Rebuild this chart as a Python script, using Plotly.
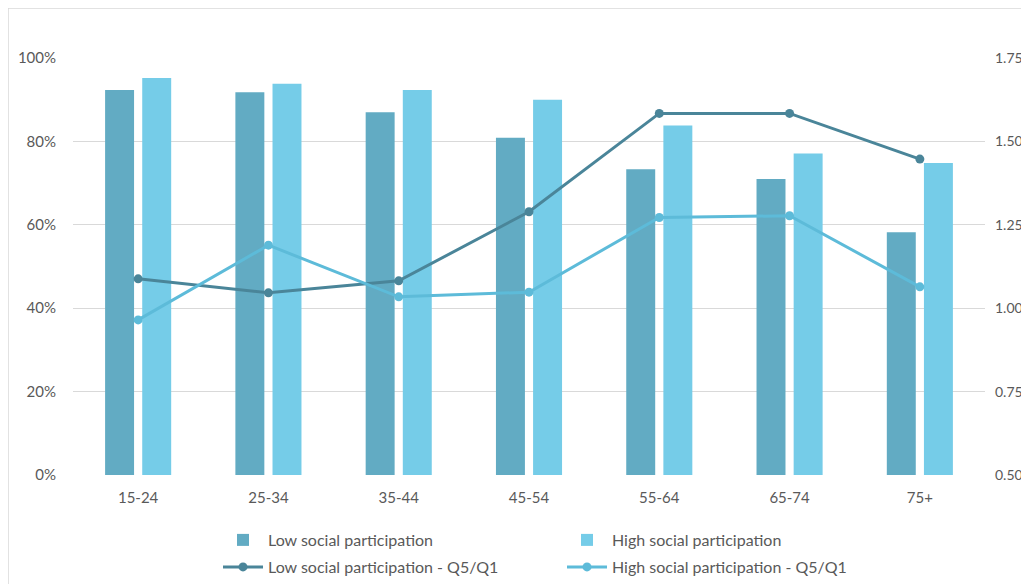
import plotly.graph_objects as go

categories = ["15-24", "25-34", "35-44", "45-54", "55-64", "65-74", "75+"]
low_share = [0.923, 0.918, 0.870, 0.809, 0.733, 0.710, 0.582]
high_share = [0.952, 0.938, 0.923, 0.900, 0.838, 0.771, 0.748]
low_ratio = [1.088, 1.046, 1.082, 1.289, 1.584, 1.584, 1.447]
high_ratio = [0.965, 1.189, 1.034, 1.048, 1.272, 1.277, 1.064]

left_ticks = [0, 0.2, 0.4, 0.6, 0.8, 1.0]
right_ticks = [0.5, 0.75, 1.0, 1.25, 1.5, 1.75]

c_low_bar = "#62abc3"
c_high_bar = "#75cce8"
c_low_line = "#4a8599"
c_high_line = "#5dbbd9"
font_color = "#595959"
FONT = "Lato"

fig = go.Figure()
fig.add_trace(go.Bar(x=categories, y=low_share, name="Low social participation",
                     marker=dict(color=c_low_bar, line=dict(width=0)), legend="legend"))
fig.add_trace(go.Bar(x=categories, y=high_share, name="High social participation",
                     marker=dict(color=c_high_bar, line=dict(width=0)), legend="legend"))
fig.add_trace(go.Scatter(x=categories, y=low_ratio, name="Low social participation - Q5/Q1",
                         yaxis="y2", mode="lines+markers", legend="legend2",
                         line=dict(color=c_low_line, width=3),
                         marker=dict(color=c_low_line, size=9)))
fig.add_trace(go.Scatter(x=categories, y=high_ratio, name="High social participation - Q5/Q1",
                         yaxis="y2", mode="lines+markers", legend="legend2",
                         line=dict(color=c_high_line, width=3),
                         marker=dict(color=c_high_line, size=9)))

W, H = 1021, 576
PH = 417.0  # plot height in px
PW = 912.0
leg_common = dict(orientation="h", xanchor="left", yanchor="middle", yref="container",
                  entrywidth=289, entrywidthmode="pixels", traceorder="normal",
                  font=dict(family=FONT, size=16, color=font_color),
                  itemwidth=40, bgcolor="rgba(0,0,0,0)")

fig.update_layout(
    template="none",
    width=W, height=H,
    margin=dict(l=65, r=W - 65 - int(PW), t=50, b=H - 50 - int(PH), autoexpand=False),
    paper_bgcolor="white", plot_bgcolor="white",
    font=dict(family=FONT, size=15, color=font_color),
    barmode="group", bargap=0.43, bargroupgap=0.22,
    showlegend=True,
    legend=dict(x=0.159, y=1 - (540 - 8) / H, **leg_common),
    legend2=dict(x=0.159, y=1 - (567 - 8) / H, **leg_common),
    xaxis=dict(showgrid=False, showline=False, zeroline=False, ticks="",
               ticklabelstandoff=12, automargin=False),
    yaxis=dict(range=[0, 1.0], tickvals=left_ticks, tickformat=".0%",
               showgrid=True, gridcolor="#d9d9d9", gridwidth=1, zeroline=False,
               showline=False, ticks="", ticklabelstandoff=16, automargin=False),
    yaxis2=dict(overlaying="y", side="right", range=[0.5, 1.75], tickvals=right_ticks,
                tickformat=".2f", showgrid=False, zeroline=False, showline=False,
                ticks="", ticklabelstandoff=9, automargin=False,
                tickfont=dict(size=14)),
    shapes=[dict(type="rect", xref="paper", yref="paper",
                 x0=-65 / PW, x1=1.2, y0=-0.6, y1=1 + 50 / PH,
                 line=dict(color="#d9d9d9", width=1.5), fillcolor="rgba(0,0,0,0)",
                 layer="below")],
)

fig.write_html("out.html")
